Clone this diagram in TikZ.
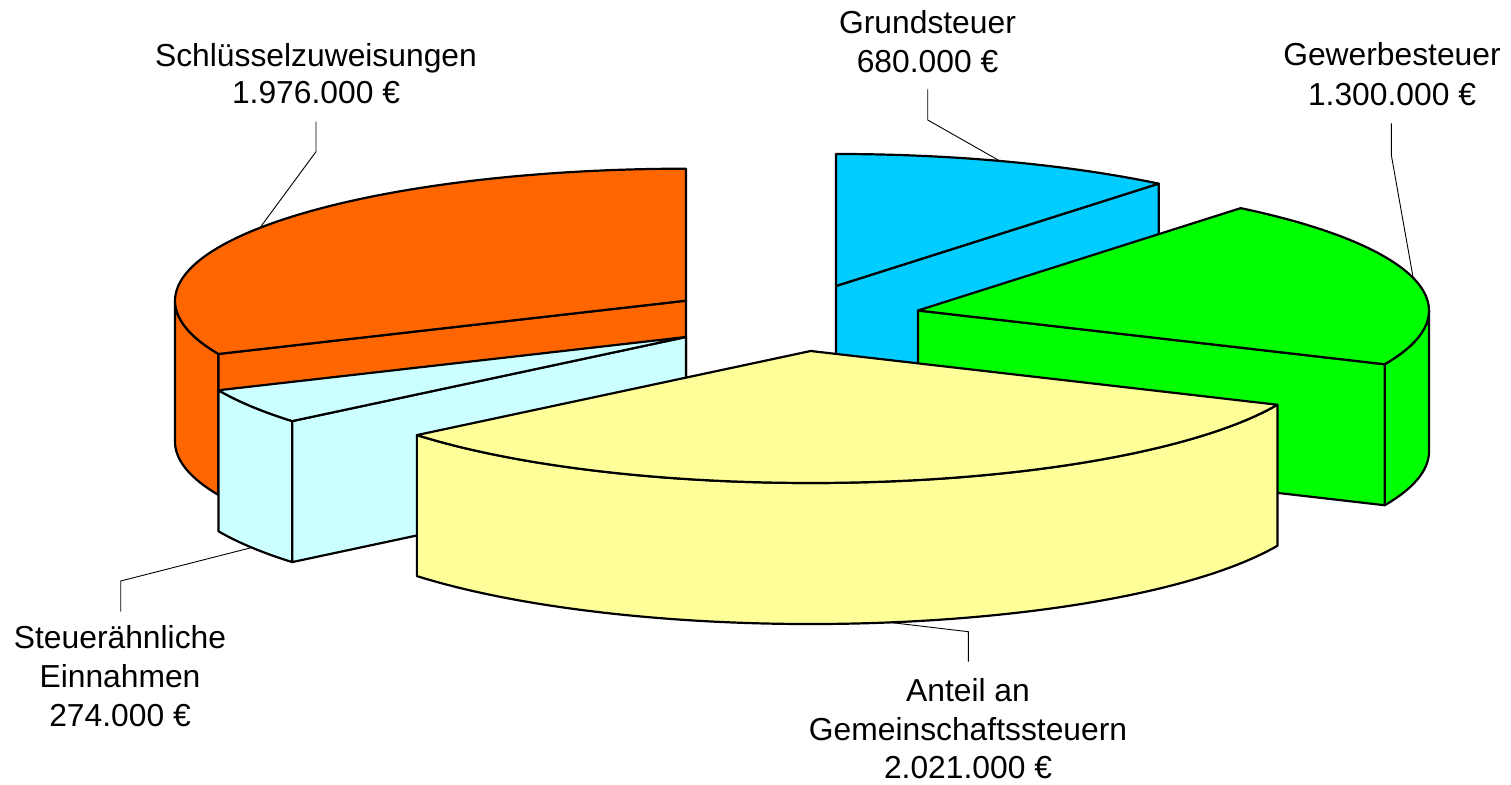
\documentclass[tikz,border=0pt]{standalone}
\usepackage{fontspec}
\setmainfont{Liberation Sans}
\usetikzlibrary{calc}
\definecolor{cOrange}{HTML}{FF6600}
\definecolor{cBlue}{HTML}{00CCFF}
\definecolor{cGreen}{HTML}{00FF00}
\definecolor{cCyan}{HTML}{CCFFFF}
\definecolor{cYellow}{HTML}{FFFF99}
\begin{document}
\begin{tikzpicture}[x=1pt,y=1pt,
  face/.style={draw=black, line width=2.2pt, line join=round},
  leader/.style={draw=black, line width=0.9pt},
  lbl/.style={inner sep=0pt, anchor=base, font=\fontsize{31.8}{39.5}\selectfont}]
\useasboundingbox (0,0) rectangle (1511,784);
\def\ra{511}\def\rb{132}\def\hh{141}
\tikzset{ell/.style={x radius=\ra pt, y radius=\rb pt}}

% ---------- Orange: Schluesselzuweisungen (90 -> 203.8)
\coordinate (O) at (686,483.3);
\coordinate (Ob) at ($(O)+(0,-\hh)$);
\coordinate (O1) at ($(O)+({\ra*cos(90)},{\rb*sin(90)})$);
\coordinate (O2) at ($(O)+({\ra*cos(203.8)},{\rb*sin(203.8)})$);
\coordinate (Ol) at ($(O)+({\ra*cos(180)},{\rb*sin(180)})$);
\filldraw[face, fill=cOrange] (Ol) arc[ell, start angle=180, end angle=203.8] -- ++(0,-\hh)
   arc[ell, start angle=203.8, end angle=180] -- cycle;
\filldraw[face, fill=cOrange] (O) -- (O2) -- ++(0,-\hh) -- (Ob) -- cycle;
\filldraw[face, fill=cOrange] (O) -- (O1) arc[ell, start angle=90, end angle=203.8] -- cycle;

% ---------- Blue: Grundsteuer (50.84 -> 90)
\coordinate (B) at (836,498);
\coordinate (Bb) at ($(B)+(0,-\hh)$);
\coordinate (B1) at ($(B)+({\ra*cos(50.84)},{\rb*sin(50.84)})$);
\filldraw[face, fill=cBlue] (B) -- (B1) -- ++(0,-\hh) -- (Bb) -- cycle;
\filldraw[face, fill=cBlue] (B) -- (B1) arc[ell, start angle=50.84, end angle=90] -- cycle;

% ---------- Green: Gewerbesteuer (335.97 -> 410.84)
\coordinate (G) at (918,473.5);
\coordinate (Gb) at ($(G)+(0,-\hh)$);
\coordinate (G1) at ($(G)+({\ra*cos(335.97)},{\rb*sin(335.97)})$);
\filldraw[face, fill=cGreen] (G1) arc[ell, start angle=335.97, end angle=360] -- ++(0,-\hh)
   arc[ell, start angle=360, end angle=335.97] -- cycle;
\filldraw[face, fill=cGreen] (G) -- (G1) -- ++(0,-\hh) -- (Gb) -- cycle;
\filldraw[face, fill=cGreen] (G) -- (G1) arc[ell, start angle=335.97, end angle=410.84] -- cycle;

% ---------- Light cyan: Steueraehnliche Einnahmen (203.8 -> 219.58)
\coordinate (C) at (686,447);
\coordinate (Cb) at ($(C)+(0,-\hh)$);
\coordinate (C1) at ($(C)+({\ra*cos(203.8)},{\rb*sin(203.8)})$);
\coordinate (C2) at ($(C)+({\ra*cos(219.58)},{\rb*sin(219.58)})$);
\filldraw[face, fill=cCyan] (C1) arc[ell, start angle=203.8, end angle=219.58] -- ++(0,-\hh)
   arc[ell, start angle=219.58, end angle=203.8] -- cycle;
\filldraw[face, fill=cCyan] (C) -- (C2) -- ++(0,-\hh) -- (Cb) -- cycle;
\filldraw[face, fill=cCyan] (C) -- (C1) arc[ell, start angle=203.8, end angle=219.58] -- cycle;

% ---------- Yellow: Anteil an Gemeinschaftssteuern (219.58 -> 335.97)
\coordinate (Y) at (810.7,433);
\coordinate (Yb) at ($(Y)+(0,-\hh)$);
\coordinate (Y1) at ($(Y)+({\ra*cos(219.58)},{\rb*sin(219.58)})$);
\filldraw[face, fill=cYellow] (Y1) arc[ell, start angle=219.58, end angle=335.97] -- ++(0,-\hh)
   arc[ell, start angle=335.97, end angle=219.58] -- cycle;
\filldraw[face, fill=cYellow] (Y) -- (Y1) arc[ell, start angle=219.58, end angle=335.97] -- cycle;

% ---------- Labels
\node[lbl] (tS1) at (316,717.3) {Schlüsselzuweisungen};
\node[lbl] (tS2) at (316,680) {1.976.000 €};
\node[lbl] (tG1) at (927.5,750.7) {Grundsteuer};
\node[lbl] (tG2) at (927.5,711.3) {680.000 €};
\node[lbl] (tW1) at (1392,718) {Gewerbesteuer};
\node[lbl] (tW2) at (1392,678) {1.300.000 €};
\node[lbl] (tE1) at (120,135) {Steuerähnliche};
\node[lbl] (tE2) at (120,96) {Einnahmen};
\node[lbl] (tE3) at (120,58) {274.000 €};
\node[lbl] (tA1) at (968,82.3) {Anteil an};
\node[lbl] (tA2) at (968,44) {Gemeinschaftssteuern};
\node[lbl] (tA3) at (968,6) {2.021.000 €};

% ---------- Leader lines
\coordinate (lS0) at (316,662.3);
\coordinate (lS1) at (316,632.3);
\coordinate (lS2) at ($(O)+({\ra*cos(146.5)},{\rb*sin(146.5)})$);
\draw[leader] (lS0) -- (lS1) -- (lS2);

\coordinate (lG0) at (927.7,694.7);
\coordinate (lG1) at (927.7,664);
\coordinate (lG2) at ($(B)+({\ra*cos(71.3)},{\rb*sin(71.3)})$);
\draw[leader] (lG0) -- (lG1) -- (lG2);

\coordinate (lW0) at (1391.3,660.7);
\coordinate (lW1) at (1391.3,629);
\coordinate (lW2) at ($(G)+({\ra*cos(14.3)},{\rb*sin(14.3)})$);
\draw[leader] (lW0) -- (lW1) -- (lW2);

\coordinate (lE0) at (120.7,172.3);
\coordinate (lE1) at (120.7,203);
\coordinate (lE2) at ($(Cb)+({\ra*cos(211.8)},{\rb*sin(211.8)})$);
\draw[leader] (lE0) -- (lE1) -- (lE2);

\coordinate (lA0) at (968.3,122.3);
\coordinate (lA1) at (968.3,152.3);
\coordinate (lA2) at ($(Yb)+({\ra*cos(278.9)},{\rb*sin(278.9)})$);
\draw[leader] (lA0) -- (lA1) -- (lA2);
\end{tikzpicture}
\end{document}
